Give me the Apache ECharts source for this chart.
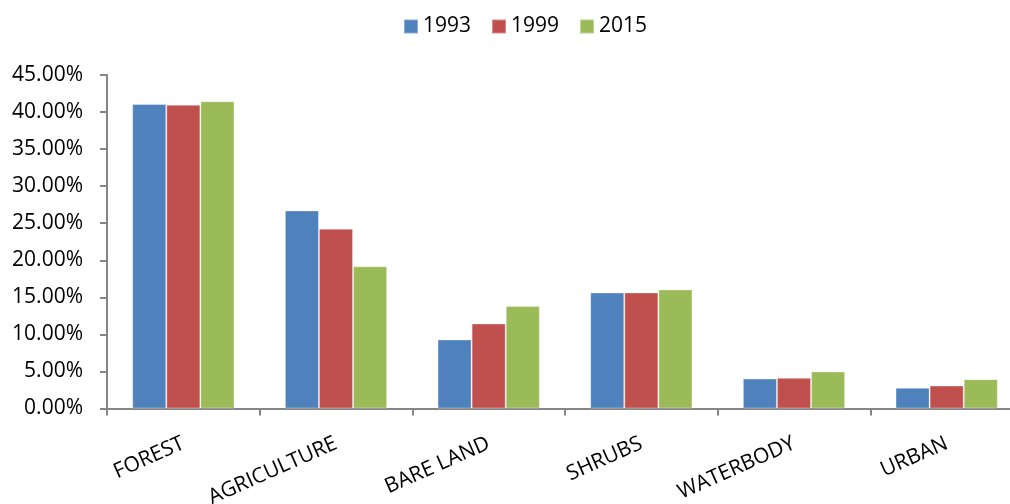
<!DOCTYPE html>
<html>
<head>
<meta charset="utf-8">
<script src="https://cdn.jsdelivr.net/npm/echarts@6/dist/echarts.min.js"></script>
<style>html,body{margin:0;padding:0;background:#fff;overflow:hidden;width:1010px;height:504px;}#c{width:1023px;height:504px;}</style>
</head>
<body>
<div id="c"></div>
<script>
var categories = ['FOREST', 'AGRICULTURE', 'BARE LAND', 'SHRUBS', 'WATERBODY', 'URBAN'];
var seriesNames = ['1993', '1999', '2015'];
var values1993 = [41.09, 26.73, 9.32, 15.66, 4.05, 2.79];
var values1999 = [41.00, 24.26, 11.48, 15.66, 4.14, 3.10];
var values2015 = [41.45, 19.20, 13.82, 16.07, 5.00, 3.96];
var colors = ['#4F81BD', '#C0504D', '#9BBB59'];
var yTicks = { min: 0, max: 45, interval: 5 };

var FONT = 'Open Sans';
var chart = echarts.init(document.getElementById('c'), null, { renderer: 'canvas' });
var allValues = [values1993, values1999, values2015];
chart.setOption({
  animation: false,
  backgroundColor: '#fff',
  color: colors,
  textStyle: { fontFamily: FONT, color: '#000' },
  legend: {
    left: 398, top: 11,
    itemWidth: 14, itemHeight: 14, itemGap: 20,
    icon: 'rect',
    textStyle: { fontFamily: FONT, fontSize: 21, color: '#000' },
    data: seriesNames
  },
  grid: { left: 107, top: 75, right: 0, bottom: 95.5, containLabel: false, outerBoundsMode: 'none' },
  xAxis: {
    type: 'category',
    data: categories,
    boundaryGap: true,
    axisLine: { show: true, lineStyle: { color: '#868686', width: 2 } },
    axisTick: { show: true, length: 7, lineStyle: { color: '#868686', width: 2 } },
    axisLabel: { rotate: 24, margin: 34, fontSize: 21, color: '#000', fontFamily: FONT, interval: 0 },
    splitLine: { show: false }
  },
  yAxis: {
    type: 'value',
    min: yTicks.min, max: yTicks.max, interval: yTicks.interval,
    axisLine: { show: true, lineStyle: { color: '#868686', width: 2 } },
    axisTick: { show: true, length: 7, lineStyle: { color: '#868686', width: 2 } },
    axisLabel: { margin: 24, fontSize: 21, color: '#000', fontFamily: FONT,
      formatter: function (v) { return v.toFixed(2) + '%'; } },
    splitLine: { show: false }
  },
  series: seriesNames.map(function (n, i) {
    return {
      name: n, type: 'bar', data: allValues[i],
      barGap: '0%', barCategoryGap: '33%',
      itemStyle: { color: colors[i], borderColor: 'rgba(255,255,255,0.35)', borderWidth: 1 }
    };
  })
});
</script>
</body>
</html>
